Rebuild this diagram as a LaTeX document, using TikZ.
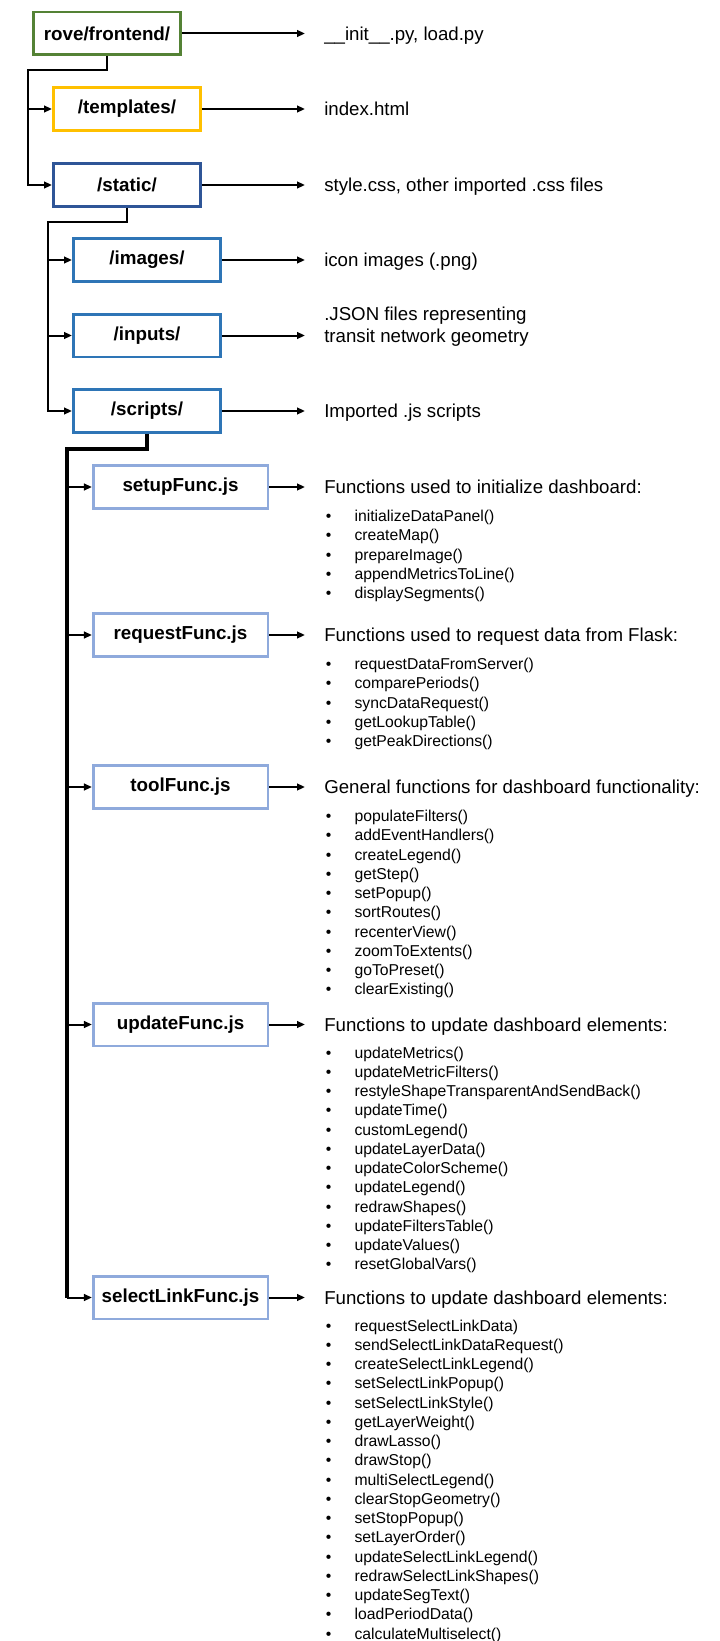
\documentclass[tikz,border=0pt]{standalone}
\usepackage{fontspec}
\setmainfont{Liberation Sans}
\usetikzlibrary{arrows.meta}

\definecolor{rootgreen}{RGB}{84,130,53}
\definecolor{tplyellow}{RGB}{255,192,0}
\definecolor{staticblue}{RGB}{47,85,151}
\definecolor{dirblue}{RGB}{46,117,182}
\definecolor{jsblue}{RGB}{143,170,220}

\begin{document}
\begin{tikzpicture}[x=0.75pt, y=-0.75pt, >={Triangle[length=6pt,width=5pt]},
	folder/.style={draw, line width=1.9pt, fill=white, minimum width=110.6pt, minimum height=31.9pt, inner sep=0pt, font=\fontsize{14.1}{17}\selectfont\bfseries},
	script/.style={folder, draw=jsblue, minimum width=130.9pt},
	label/.style={anchor=west, inner sep=0pt, text height=10pt, text depth=0pt, font=\fontsize{14}{16.5}\selectfont},
	item/.style={anchor=west, inner sep=0pt, text height=8.4pt, text depth=0pt, font=\fontsize{11.8}{14}\selectfont},
	link/.style={->, line width=1.5pt}]
			\useasboundingbox (0,0) rectangle (720,1641);

			% folders
			\node[folder, draw=rootgreen] (frontend) at (107,33.5) {rove/frontend/};
			\node[folder, draw=tplyellow] (templates) at (127,109) {/templates/};
			\node[folder, draw=staticblue] (static) at (127,185) {/static/};
			\node[folder, draw=dirblue] (images) at (147,260) {/images/};
			\node[folder, draw=dirblue] (inputs) at (147,335.5) {/inputs/};
			\node[folder, draw=dirblue] (scripts) at (147,411) {/scripts/};

			% js files
			\node[script] (setupjs) at (180.5,487) {setupFunc.js};
			\node[script] (requestjs) at (180.5,635) {requestFunc.js};
			\node[script] (tooljs) at (180.5,787) {toolFunc.js};
			\node[script] (updatejs) at (180.5,1024.5) {updateFunc.js};
			\node[script] (selectjs) at (180.5,1297.5) {selectLinkFunc.js};

			% what each one holds
			\node[label] (initlab) at (324,33.5) {\_\_init\_\_.py, load.py};
			\node[label] (indexlab) at (324,109) {index.html};
			\node[label] (csslab) at (324,185) {style.css, other imported .css files};
			\node[label] (pnglab) at (324,260) {icon images (.png)};
			\node[label, align=left] (jsonlab) at (324,335.5) {.JSON files representing\\transit network geometry};
			\node[label] (importlab) at (324,411) {Imported .js scripts};

			\node[label] (setuphead) at (324,487) {Functions used to initialize dashboard:};
			\node[label] (requesthead) at (324,635) {Functions used to request data from Flask:};
			\node[label] (toolhead) at (324,787) {General functions for dashboard functionality:};
			\node[label] (updatehead) at (324,1024.5) {Functions to update dashboard elements:};
			\node[label] (selecthead) at (324,1297.5) {Functions to update dashboard elements:};

			\foreach \f [count=\i] in {initializeDataPanel(),createMap(),prepareImage(),appendMetricsToLine(),displaySegments()} {
				\node[item] (setup\i) at (325.5,{516+19.25*(\i-1)}) {\makebox[21.6pt][l]{\textbullet}\f};
			}
			\foreach \f [count=\i] in {requestDataFromServer(),comparePeriods(),syncDataRequest(),getLookupTable(),getPeakDirections()} {
				\node[item] (request\i) at (325.5,{664+19.25*(\i-1)}) {\makebox[21.6pt][l]{\textbullet}\f};
			}
			\foreach \f [count=\i] in {populateFilters(),addEventHandlers(),createLegend(),getStep(),setPopup(),sortRoutes(),recenterView(),zoomToExtents(),goToPreset(),clearExisting()} {
				\node[item] (tool\i) at (325.5,{816+19.25*(\i-1)}) {\makebox[21.6pt][l]{\textbullet}\f};
			}
			\foreach \f [count=\i] in {updateMetrics(),updateMetricFilters(),restyleShapeTransparentAndSendBack(),updateTime(),customLegend(),updateLayerData(),updateColorScheme(),updateLegend(),redrawShapes(),updateFiltersTable(),updateValues(),resetGlobalVars()} {
				\node[item] (update\i) at (325.5,{1052.5+19.25*(\i-1)}) {\makebox[21.6pt][l]{\textbullet}\f};
			}
			\foreach \f [count=\i] in {requestSelectLinkData),sendSelectLinkDataRequest(),createSelectLinkLegend(),setSelectLinkPopup(),setSelectLinkStyle(),getLayerWeight(),drawLasso(),drawStop(),multiSelectLegend(),clearStopGeometry(),setStopPopup(),setLayerOrder(),updateSelectLinkLegend(),redrawSelectLinkShapes(),updateSegText(),loadPeriodData(),calculateMultiselect()} {
				\node[item] (select\i) at (325.5,{1325.5+19.25*(\i-1)}) {\makebox[21.6pt][l]{\textbullet}\f};
			}

			% arrows to the right
			\foreach \b/\l in {frontend/initlab, templates/indexlab, static/csslab, images/pnglab, inputs/jsonlab, scripts/importlab, setupjs/setuphead, requestjs/requesthead, tooljs/toolhead, updatejs/updatehead, selectjs/selecthead} {
				\draw[link, shorten >=14.25pt] (\b.east) -- (\b -| \l.west);
			}

			% tree on the left
			\coordinate (t1) at (28,70);
			\draw[link] (frontend.south) |- (t1) |- (static);
			\draw[link] (t1 |- templates) -- (templates);

			\coordinate (t2) at (48,222);
			\draw[link] (static.south) |- (t2) |- (scripts);
			\foreach \n in {images, inputs} {
				\draw[link] (t2 |- \n) -- (\n);
			}

			\coordinate (t3) at (67,449);
			\draw[line width=2.6pt] (scripts.south) |- (t3) -- (t3 |- selectjs);
			\foreach \n in {setupjs, requestjs, tooljs, updatejs, selectjs} {
				\draw[link] (t3 |- \n) -- (\n);
			}
		\end{tikzpicture}
\end{document}
